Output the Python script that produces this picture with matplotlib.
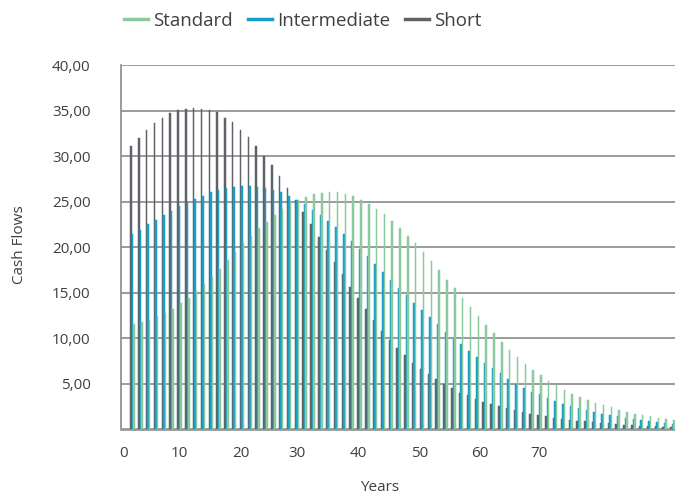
import numpy as np
import matplotlib
matplotlib.use("Agg")
import matplotlib.pyplot as plt
from matplotlib.lines import Line2D

# ---------------- data ----------------
short = [31.1, 32.0, 32.9, 33.6, 34.2, 34.7, 35.05, 35.2, 35.3,
         35.2, 35.05, 34.8, 34.2, 33.7, 32.9, 32.1, 31.1, 30.0, 29.0,
         27.8, 26.5, 25.2, 23.8, 22.5, 21.1, 19.7, 18.4, 17.0, 15.6,
         14.4, 13.2, 12.0, 10.8, 9.8, 8.9, 8.1, 7.3, 6.6, 6.0,
         5.5, 5.0, 4.5, 4.0, 3.7, 3.3, 3.0, 2.7, 2.5, 2.3,
         2.1, 1.9, 1.7, 1.5, 1.4, 1.25, 1.1, 1.0, 0.9, 0.85,
         0.77, 0.7, 0.62, 0.55, 0.48, 0.4, 0.37, 0.33, 0.29, 0.26, 0.22]

intermediate = [21.4, 21.9, 22.5, 23.0, 23.5, 24.0, 24.5, 24.9, 25.3,
                25.6, 26.0, 26.3, 26.5, 26.6, 26.7, 26.7, 26.6, 26.5, 26.3,
                26.0, 25.6, 25.2, 24.7, 24.1, 23.5, 22.9, 22.2, 21.4, 20.7,
                19.8, 19.0, 18.1, 17.3, 16.4, 15.5, 14.7, 13.9, 13.1, 12.3,
                11.5, 10.7, 10.0, 9.3, 8.6, 7.9, 7.3, 6.7, 6.1, 5.5,
                5.0, 4.5, 4.1, 3.8, 3.4, 3.1, 2.8, 2.5, 2.3, 2.1,
                1.9, 1.7, 1.55, 1.4, 1.25, 1.1, 0.95, 0.88, 0.77, 0.66, 0.55]

standard = [11.5, 11.8, 12.0, 12.4, 12.7, 13.2, 13.8, 14.4, 15.2,
            15.9, 16.7, 17.6, 18.6, 19.5, 20.4, 21.2, 22.1, 22.8, 23.5,
            24.2, 25.0, 25.2, 25.5, 25.8, 25.9, 26.0, 26.0, 25.8, 25.6,
            25.2, 24.7, 24.2, 23.6, 22.9, 22.1, 21.2, 20.4, 19.5, 18.5,
            17.5, 16.4, 15.5, 14.4, 13.4, 12.4, 11.4, 10.5, 9.6, 8.7,
            7.9, 7.1, 6.5, 5.9, 5.3, 4.8, 4.3, 3.9, 3.5, 3.2,
            2.9, 2.6, 2.4, 2.1, 1.9, 1.7, 1.55, 1.4, 1.25, 1.1, 1.0]

series_names = ["Standard", "Intermediate", "Short"]
x_tick_labels = ["0", "10", "20", "30", "40", "50", "60", "70"]
y_ticks = [5, 10, 15, 20, 25, 30, 35, 40]

# ---------------- style ----------------
c_std = "#8bc99e"
c_int = "#16a0c9"
c_short = "#5f6368"
text_c = "#404040"
grid_c = "#8a8a8a"

plt.rcParams["font.family"] = ["Open Sans", "DejaVu Sans"]

fig = plt.figure(figsize=(6.75, 4.94), dpi=100)
ax = fig.add_axes([121 / 675, 1 - 429 / 494, 555 / 675, (429 - 65) / 494])

idx = np.arange(len(short))
w = 0.19
ax.bar(idx - w, short, width=w, color=c_short, edgecolor=c_short, linewidth=0.35, zorder=3)
ax.bar(idx, intermediate, width=w, color=c_int, edgecolor=c_int, linewidth=0.35, zorder=3)
ax.bar(idx + w, standard, width=w, color=c_std, edgecolor=c_std, linewidth=0.35, zorder=3)

ax.set_xlim(-1.47, 69.45)
ax.set_ylim(0, 40)

ax.set_yticks(y_ticks)
ax.set_yticklabels([f"{v:.2f}".replace(".", ",") for v in y_ticks])
tick_pos = [-1.1, 5.95, 13.85, 21.0, 28.8, 36.7, 44.4, 51.9]
ax.set_xticks(tick_pos)
ax.set_xticklabels(x_tick_labels)

ax.tick_params(axis="both", length=0, labelsize=11, colors=text_c)
ax.tick_params(axis="x", pad=12)
ax.tick_params(axis="y", pad=22)

ax.grid(axis="y", color=grid_c, linewidth=1.2, zorder=0)
ax.grid(axis="x", visible=False)
for s in ["top", "right"]:
    ax.spines[s].set_visible(False)
ax.spines["left"].set_color(grid_c)
ax.spines["left"].set_linewidth(1.2)
ax.spines["bottom"].set_color("#999999")
ax.spines["bottom"].set_linewidth(2)

fig.text(20 / 675, 1 - 245 / 494, "Cash Flows", rotation=90, ha="center", va="center",
         fontsize=11, color=text_c)
fig.text(380 / 675, 1 - 487 / 494, "Years", ha="center", va="center",
         fontsize=11, color=text_c)

handles = [Line2D([0], [0], color=c_std, lw=2.5),
           Line2D([0], [0], color=c_int, lw=2.5),
           Line2D([0], [0], color=c_short, lw=2.5)]
fig.legend(handles, series_names, loc="center", bbox_to_anchor=(0.449, 1 - 21 / 494),
           ncol=3, frameon=False, fontsize=13.5, handlelength=1.25, handletextpad=0.3,
           columnspacing=0.8, labelcolor=text_c)

fig.savefig("out.png", dpi=100)
